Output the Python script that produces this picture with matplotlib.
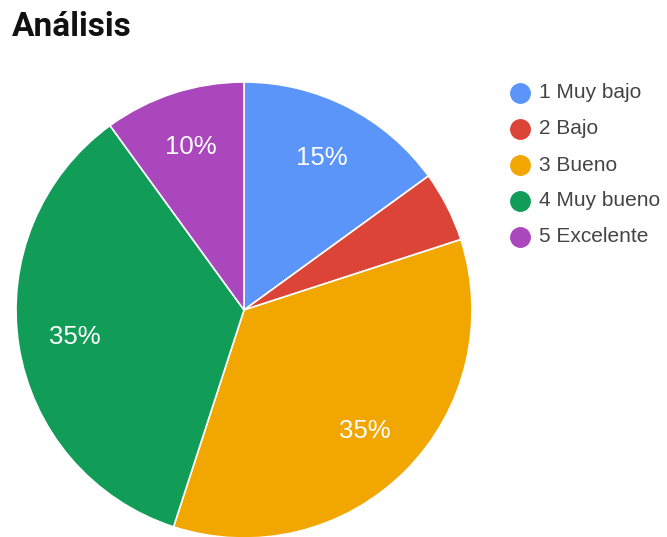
import matplotlib.pyplot as plt
from matplotlib.lines import Line2D

labels = ['1 Muy bajo', '2 Bajo', '3 Bueno', '4 Muy bueno', '5 Excelente']
shares = [15, 5, 35, 35, 10]
colors = ['#5b95f9', '#db4437', '#f2a600', '#119c58', '#ab47bc']

plt.rcParams['font.family'] = ['Liberation Sans', 'DejaVu Sans']

fig = plt.figure(figsize=(6.67, 5.37), dpi=100)
ax = fig.add_axes([16/667, -1/537, 456/667, 456/537])

def pct_label(p):
    # small slices stay unlabelled
    return '%d%%' % round(p) if p >= 7 else ''

wedges, texts, autotexts = ax.pie(
    shares, colors=colors, startangle=90, counterclock=False,
    autopct=pct_label, pctdistance=0.75,
    wedgeprops=dict(edgecolor='white', linewidth=1.2),
    textprops=dict(color='white', fontsize=18.5))
ax.set_xlim(-1, 1)
ax.set_ylim(-1, 1)
ax.set_aspect('equal')

fig.text(12/667, 1 - 27/537, 'Análisis', fontsize=24, fontweight='bold',
         family='Roboto', color='#111111', va='center', ha='left')

# legend drawn by hand: dot + label per row
for i, (lab, col) in enumerate(zip(labels, colors)):
    y = 1 - (93 + i * 36) / 537
    fig.add_artist(Line2D([520/667], [y], marker='o', markersize=14,
                          color=col, transform=fig.transFigure))
    fig.text(539/667, y, lab, fontsize=15, color='#444444',
             va='center', ha='left')

plt.savefig('out.png', dpi=100)
